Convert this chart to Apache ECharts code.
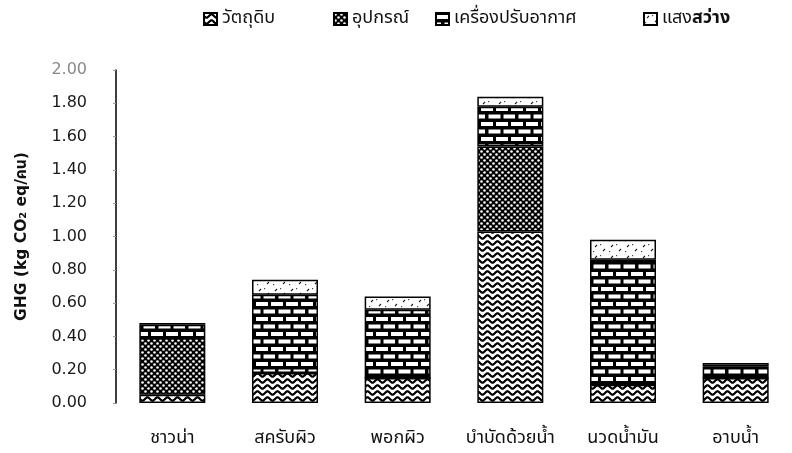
<!DOCTYPE html>
<html>
<head>
<meta charset="utf-8">
<script src="https://cdn.jsdelivr.net/npm/echarts@6/dist/echarts.min.js"></script>
<style>
  html, body { margin: 0; padding: 0; background: #fff; }
  #chart { width: 792px; height: 453px; }
</style>
</head>
<body>
<div id="chart"></div>
<script>
// GHG emission per person for each spa service, split by source
const categories = ['ชาวน่า', 'สครับผิว', 'พอกผิว', 'บำบัดด้วยน้ำ', 'นวดน้ำมัน', 'อาบน้ำ'];
const seriesNames = ['วัตถุดิบ', 'อุปกรณ์', 'เครื่องปรับอากาศ', 'แสงสว่าง'];
const rawMaterial = [0.05, 0.18, 0.15, 1.03, 0.11, 0.15];
const equipment   = [0.34, 0.00, 0.00, 0.51, 0.00, 0.00];
const airCon      = [0.08, 0.47, 0.41, 0.24, 0.75, 0.07];
const lighting    = [0.01, 0.09, 0.08, 0.06, 0.12, 0.02];
const yTicks = { min: 0, max: 2, interval: 0.2 };

// Fill patterns drawn on small canvases
function tile(w, h, draw) {
  const c = document.createElement('canvas');
  c.width = w; c.height = h;
  const g = c.getContext('2d');
  g.fillStyle = '#fff';
  g.fillRect(0, 0, w, h);
  draw(g, w, h);
  return { image: c, repeat: 'repeat' };
}

const wavePattern = tile(10, 6, (g, w) => {
  g.strokeStyle = '#000';
  g.lineWidth = 2.2;
  g.beginPath();
  for (let x = -1; x <= w + 1; x += 0.5) {
    const y = 3 + 1.7 * Math.sin((x / w) * Math.PI * 2);
    if (x === -1) g.moveTo(x, y); else g.lineTo(x, y);
  }
  g.stroke();
});

const dotPattern = tile(6, 6, (g) => {
  g.fillStyle = '#000';
  g.fillRect(0, 0, 6, 6);
  g.fillStyle = '#fff';
  g.beginPath(); g.arc(1.5, 1.5, 1.3, 0, Math.PI * 2); g.fill();
  g.beginPath(); g.arc(4.5, 4.5, 1.3, 0, Math.PI * 2); g.fill();
});

const brickPattern = tile(30, 15, (g) => {
  g.fillStyle = '#000';
  g.fillRect(0, 0, 30, 15);
  g.fillStyle = '#fff';
  g.fillRect(1, 2, 12, 4);
  g.fillRect(16, 2, 12, 4);
  g.fillRect(-7, 9.5, 12, 4);
  g.fillRect(8.5, 9.5, 12, 4);
  g.fillRect(23.5, 9.5, 12, 4);
});

const lightPattern = tile(16, 11, (g) => {
  g.strokeStyle = '#222';
  g.lineWidth = 1.1;
  g.beginPath();
  g.moveTo(3, 5); g.lineTo(5, 3);
  g.moveTo(11, 9); g.lineTo(13, 7);
  g.stroke();
  g.fillStyle = '#444';
  g.fillRect(8, 2, 1.2, 1.2);
  g.fillRect(1, 9, 1.2, 1.2);
});

const patterns = [wavePattern, dotPattern, brickPattern, lightPattern];
const values = [rawMaterial, equipment, airCon, lighting];

const thaiFont = '"Noto Sans Thai", "Noto Sans", "DejaVu Sans", sans-serif';

// one legend entry per source, spread along the top
const legendLeft = [198, 328, 430, 638];
const legendText = {
  fontFamily: thaiFont,
  fontSize: 18,
  color: '#111',
  rich: {
    b: { fontFamily: thaiFont, fontSize: 18, fontWeight: 'bold', color: '#111' }
  }
};
const legends = seriesNames.map((name, i) => ({
  top: 5,
  left: legendLeft[i],
  icon: 'rect',
  itemWidth: 13,
  itemHeight: 12,
  itemGap: 6,
  data: [name],
  textStyle: legendText,
  formatter: (n) => n === 'แสงสว่าง' ? 'แสง{b|สว่าง}' : n
}));

const chart = echarts.init(document.getElementById('chart'), null, { renderer: 'canvas' });

chart.setOption({
  animation: false,
  backgroundColor: '#fff',
  legend: legends,
  grid: { left: 116, top: 70, width: 698, bottom: 50 },
  xAxis: {
    type: 'category',
    data: categories,
    axisLine: { show: false },
    axisTick: { show: false },
    axisLabel: {
      interval: 0,
      margin: 27,
      fontFamily: thaiFont,
      fontSize: 18,
      color: '#111'
    }
  },
  yAxis: {
    type: 'value',
    min: yTicks.min,
    max: yTicks.max,
    interval: yTicks.interval,
    name: 'GHG (kg CO₂ eq/คน)',
    nameLocation: 'middle',
    nameGap: 86,
    nameTextStyle: {
      fontFamily: '"DejaVu Sans", ' + thaiFont,
      fontWeight: 'bold',
      fontSize: 15.5,
      color: '#111'
    },
    splitLine: { show: false },
    axisLine: { show: true, lineStyle: { color: '#111', width: 1.6 } },
    axisTick: { show: true, length: 3, lineStyle: { color: '#999', width: 1 } },
    axisLabel: {
      margin: 29,
      fontFamily: '"DejaVu Sans", sans-serif',
      fontSize: 16,
      color: (v) => (v >= 2 ? '#888' : '#1a1a1a'),
      formatter: (v) => v.toFixed(2)
    }
  },
  series: seriesNames.map((name, i) => ({
    name,
    type: 'bar',
    stack: 'ghg',
    barWidth: 66,
    data: values[i],
    itemStyle: {
      color: patterns[i],
      borderColor: '#000',
      borderWidth: 1.5
    },
    emphasis: { disabled: true }
  }))
});
</script>
</body>
</html>
